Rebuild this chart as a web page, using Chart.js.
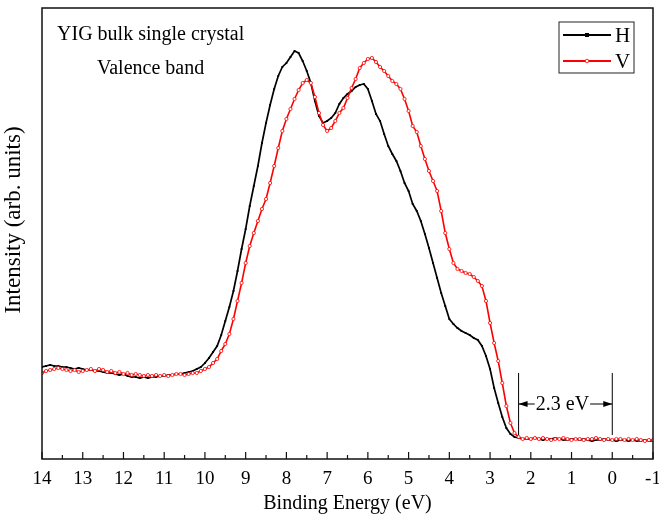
<!DOCTYPE html>
<html>
<head>
<meta charset="utf-8">
<script src="https://cdn.jsdelivr.net/npm/chart.js@4"></script>
<style>
  html, body { margin: 0; padding: 0; background: #fff; }
  #wrap { width: 659px; height: 516px; }
</style>
</head>
<body>
<div id="wrap"><canvas id="vb" width="659" height="516"></canvas></div>
<script>
'use strict';

// binding energy grid (eV), 14 down to -1
const energies = [
    14.0, 13.9, 13.8, 13.7, 13.6, 13.5, 13.4, 13.3, 13.2, 13.1,
    13.0, 12.9, 12.8, 12.7, 12.6, 12.5, 12.4, 12.3, 12.2, 12.1,
    12.0, 11.9, 11.8, 11.7, 11.6, 11.5, 11.4, 11.3, 11.2, 11.1,
    11.0, 10.9, 10.8, 10.7, 10.6, 10.5, 10.4, 10.3, 10.2, 10.1,
    10.0, 9.9, 9.8, 9.7, 9.6, 9.5, 9.4, 9.3, 9.2, 9.1,
    9.0, 8.9, 8.8, 8.7, 8.6, 8.5, 8.4, 8.3, 8.2, 8.1,
    8.0, 7.9, 7.8, 7.7, 7.6, 7.5, 7.4, 7.3, 7.2, 7.1,
    7.0, 6.9, 6.8, 6.7, 6.6, 6.5, 6.4, 6.3, 6.2, 6.1,
    6.0, 5.9, 5.8, 5.7, 5.6, 5.5, 5.4, 5.3, 5.2, 5.1,
    5.0, 4.9, 4.8, 4.7, 4.6, 4.5, 4.4, 4.3, 4.2, 4.1,
    4.0, 3.9, 3.8, 3.7, 3.6, 3.5, 3.4, 3.3, 3.2, 3.1,
    3.0, 2.9, 2.8, 2.7, 2.6, 2.5, 2.4, 2.3, 2.2, 2.1,
    2.0, 1.9, 1.8, 1.7, 1.6, 1.5, 1.4, 1.3, 1.2, 1.1,
    1.0, 0.9, 0.8, 0.7, 0.6, 0.5, 0.4, 0.3, 0.2, 0.1,
    0.0, -0.1, -0.2, -0.3, -0.4, -0.5, -0.6, -0.7, -0.8, -0.9,
    -1.0
];

// intensity, horizontal polarisation (arb. units)
const intensityH = [
    92, 93, 94, 93, 93, 92, 92, 91, 90, 91,
    90, 89, 89, 88, 88, 87, 86, 86, 85, 84,
    85, 83, 82, 82, 81, 82, 81, 82, 82, 83,
    83, 84, 84, 85, 85, 86, 87, 88, 90, 92,
    96, 101, 107, 113, 124, 138, 152, 168, 188, 210,
    230, 253, 273, 293, 316, 336, 354, 370, 383, 392,
    396, 402, 408, 406, 398, 388, 376, 358, 343, 336,
    338, 341, 346, 355, 361, 365, 368, 372, 374, 375,
    370, 358, 345, 338, 325, 313, 305, 298, 288, 276,
    268, 255, 248, 238, 225, 211, 196, 181, 166, 153,
    140, 135, 131, 128, 126, 124, 121, 119, 113, 103,
    90, 71, 56, 42, 31, 25, 22, 21, 20, 20,
    20, 21, 20, 19, 20, 20, 21, 20, 19, 19,
    20, 20, 19, 20, 19, 18, 19, 19, 20, 19,
    19, 18, 19, 19, 18, 19, 18, 18, 19, 18,
    18
];

// intensity, vertical polarisation (arb. units)
const intensityV = [
    86, 88, 89, 90, 91, 90, 89, 88, 89, 87,
    88, 89, 90, 88, 90, 89, 87, 88, 86, 87,
    85, 86, 84, 85, 84, 83, 84, 83, 84, 83,
    84, 83, 84, 85, 85, 84, 85, 86, 86, 88,
    90, 92, 96, 100, 108, 115, 125, 140, 158, 176,
    196, 213, 226, 238, 250, 260, 276, 293, 311, 328,
    340, 350, 360, 369, 376, 379, 376, 362, 346, 334,
    328, 331, 338, 346, 351, 361, 371, 380, 391, 396,
    400, 401, 397, 392, 388, 383, 378, 375, 370, 360,
    348, 333, 327, 313, 300, 288, 278, 268, 248, 226,
    210, 196, 190, 188, 186, 185, 182, 178, 173, 158,
    136, 116, 98, 76, 53, 36, 26, 22, 20, 21,
    20, 21, 20, 21, 20, 19, 20, 20, 21, 20,
    19, 20, 20, 19, 20, 20, 21, 20, 19, 20,
    19, 20, 20, 19, 20, 19, 20, 19, 18, 19,
    19
];

const seriesLabels = ['H', 'V'];
const valenceBandMax = 2.3;   // eV
const fermiLevel = 0;         // eV
const gapLabel = `${(valenceBandMax - fermiLevel).toFixed(1)} eV`;

const SERIF = "'Liberation Serif', 'Times New Roman', serif";

function toPoints(xs, ys) {
    return xs.map((x, i) => ({ x, y: ys[i] }));
}

// box frame + inward ticks on the energy axis (majors at 1 eV, minors at 0.5 eV)
const frameTicks = {
    id: 'frameTicks',
    afterDatasetsDraw(chart) {
        const { ctx, chartArea: a, scales: { x } } = chart;
        ctx.save();
        ctx.strokeStyle = '#111';
        ctx.lineWidth = 1.5;
        ctx.strokeRect(a.left, a.top, a.right - a.left, a.bottom - a.top);
        ctx.lineWidth = 1.2;
        ctx.beginPath();
        for (let v = x.min; v <= x.max; v += 0.5) {
            const px = x.getPixelForValue(v);
            const len = Number.isInteger(v) ? 7 : 4;
            ctx.moveTo(px, a.bottom);
            ctx.lineTo(px, a.bottom - len);
        }
        ctx.stroke();
        ctx.restore();
    }
};

// y title, sample name, band-gap bracket and the H/V key
const notes = {
    id: 'notes',
    afterDraw(chart) {
        const { ctx, chartArea: a, scales: { x, y } } = chart;
        ctx.save();
        ctx.fillStyle = '#000';

        ctx.save();
        ctx.translate(14, a.top + (a.bottom - a.top) * 0.47);
        ctx.rotate(-Math.PI / 2);
        ctx.font = `23px ${SERIF}`;
        ctx.textAlign = 'center';
        ctx.textBaseline = 'middle';
        ctx.fillText('Intensity (arb. units)', 0, 0);
        ctx.restore();

        ctx.font = `20px ${SERIF}`;
        ctx.textBaseline = 'middle';
        ctx.textAlign = 'left';
        ctx.fillText('YIG bulk single crystal', x.getPixelForValue(13.63), y.getPixelForValue(424));
        ctx.fillText('Valence band', x.getPixelForValue(12.65), y.getPixelForValue(390));

        // |<- 2.3 eV ->|
        const x1 = x.getPixelForValue(valenceBandMax);
        const x2 = x.getPixelForValue(fermiLevel);
        const yTop = y.getPixelForValue(86);
        const yBot = y.getPixelForValue(24);
        const yMid = y.getPixelForValue(55);
        ctx.strokeStyle = '#000';
        ctx.lineWidth = 1;
        ctx.beginPath();
        ctx.moveTo(x1, yTop); ctx.lineTo(x1, yBot);
        ctx.moveTo(x2, yTop); ctx.lineTo(x2, yBot);
        ctx.stroke();

        const textW = ctx.measureText(gapLabel).width;
        const cx = (x1 + x2) / 2 - 3;
        ctx.textAlign = 'center';
        ctx.fillText(gapLabel, cx, yMid + 1);
        ctx.beginPath();
        ctx.moveTo(x1, yMid); ctx.lineTo(cx - textW / 2 - 1, yMid);
        ctx.moveTo(cx + textW / 2 + 1, yMid); ctx.lineTo(x2, yMid);
        ctx.stroke();
        ctx.beginPath();
        ctx.moveTo(x1, yMid); ctx.lineTo(x1 + 9, yMid - 3); ctx.lineTo(x1 + 9, yMid + 3); ctx.closePath();
        ctx.moveTo(x2, yMid); ctx.lineTo(x2 - 9, yMid - 3); ctx.lineTo(x2 - 9, yMid + 3); ctx.closePath();
        ctx.fill();

        // legend box, top right inside the frame
        const bx = a.right - 94, by = a.top + 14, bw = 75, bh = 51;
        ctx.lineWidth = 1;
        ctx.strokeStyle = '#222';
        ctx.strokeRect(bx, by, bw, bh);
        chart.data.datasets.slice().sort((p, q) => seriesLabels.indexOf(p.label) - seriesLabels.indexOf(q.label))
            .forEach((ds, i) => {
                const ly = by + 13 + i * 26;
                ctx.strokeStyle = ds.borderColor;
                ctx.lineWidth = 2;
                ctx.beginPath();
                ctx.moveTo(bx + 4, ly);
                ctx.lineTo(bx + 52, ly);
                ctx.stroke();
                const mx = bx + 28;
                if (ds.pointStyle === 'rect') {
                    ctx.fillStyle = ds.pointBackgroundColor;
                    ctx.fillRect(mx - 2, ly - 2, 4, 4);
                } else {
                    ctx.fillStyle = '#fff';
                    ctx.lineWidth = 0.8;
                    ctx.beginPath();
                    ctx.arc(mx, ly, 1.8, 0, Math.PI * 2);
                    ctx.fill();
                    ctx.stroke();
                }
                ctx.fillStyle = '#000';
                ctx.textAlign = 'left';
                ctx.font = `21px ${SERIF}`;
                ctx.fillText(ds.label, bx + 56, ly + 1);
            });
        ctx.restore();
    }
};

new Chart(document.getElementById('vb'), {
    type: 'line',
    data: {
        datasets: [
            {
                label: seriesLabels[0],
                data: toPoints(energies, intensityH),
                borderColor: '#000',
                borderWidth: 1.7,
                pointStyle: 'rect',
                pointRadius: 1.3,
                pointBackgroundColor: '#000',
                pointBorderColor: '#000',
                pointBorderWidth: 0,
                tension: 0,
                order: 2
            },
            {
                label: seriesLabels[1],
                data: toPoints(energies, intensityV),
                borderColor: '#ff0000',
                borderWidth: 1.6,
                pointStyle: 'circle',
                pointRadius: 1.6,
                pointBackgroundColor: '#fff',
                pointBorderColor: '#ff0000',
                pointBorderWidth: 0.8,
                tension: 0,
                order: 1
            }
        ]
    },
    options: {
        responsive: false,
        animation: false,
        layout: { padding: { top: 8, right: 6, left: 0, bottom: 0 } },
        plugins: {
            legend: { display: false },
            tooltip: { enabled: false }
        },
        scales: {
            x: {
                type: 'linear',
                reverse: true,
                min: -1,
                max: 14,
                afterFit: scale => {
                    scale.height = 57;
                    scale.paddingLeft = 0;
                    scale.paddingRight = 0;
                },
                grid: { display: false, drawTicks: false },
                border: { display: false },
                ticks: {
                    stepSize: 1,
                    autoSkip: false,
                    maxRotation: 0,
                    padding: 9,
                    color: '#000',
                    font: { family: SERIF, size: 19 }
                },
                title: {
                    display: true,
                    text: 'Binding Energy (eV)',
                    color: '#000',
                    padding: { top: 0, bottom: 0 },
                    font: { family: SERIF, size: 20 }
                }
            },
            y: {
                min: 0,
                max: 451,
                afterFit: scale => { scale.width = 42; },
                grid: { display: false, drawTicks: false },
                border: { display: false },
                ticks: { display: false },
                title: { display: false }
            }
        }
    },
    plugins: [frameTicks, notes]
});
</script>
</body>
</html>
